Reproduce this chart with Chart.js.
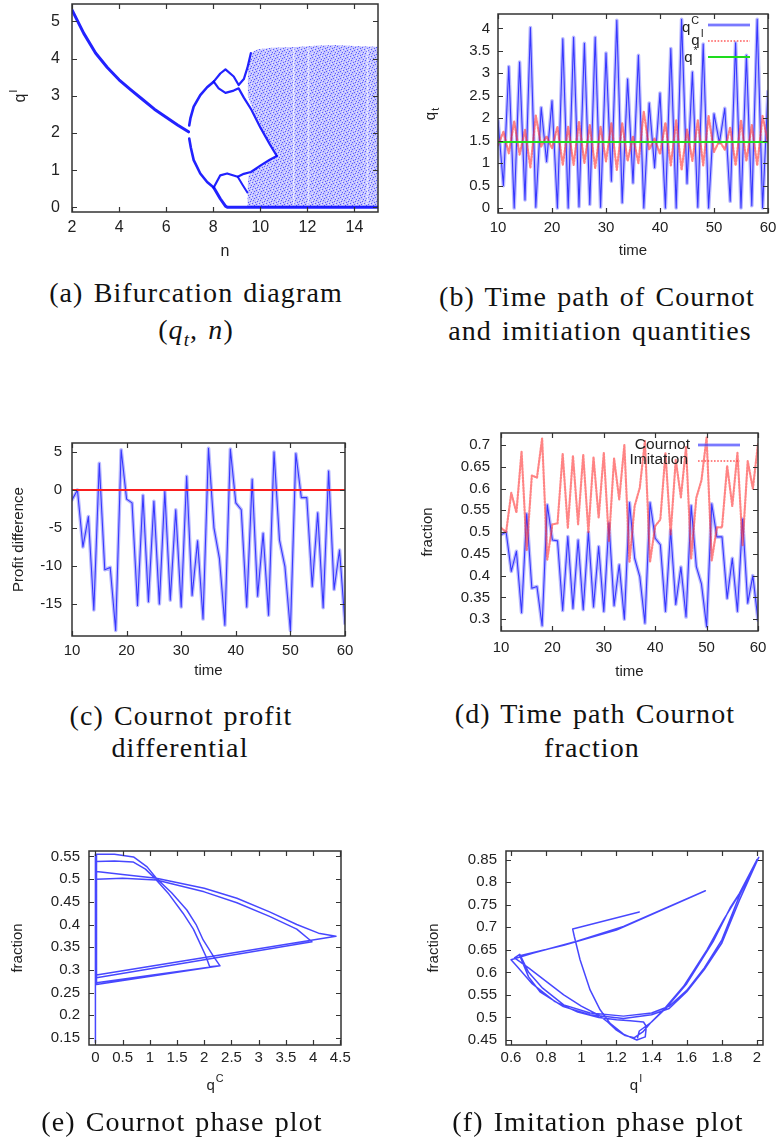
<!DOCTYPE html>
<html>
<head>
<meta charset="utf-8">
<script src="https://cdn.jsdelivr.net/npm/chart.js@4.4.1/dist/chart.umd.min.js"></script>
<style>
  html, body { margin: 0; padding: 0; background: #fff; }
  body { width: 780px; height: 1142px; position: relative; overflow: hidden; }
  canvas { position: absolute; }
  .cap { position: absolute; width: 390px; text-align: center; font-family: "Liberation Serif", serif;
         font-size: 28px; letter-spacing: 1.1px; word-spacing: 2px; line-height: 30px; color: #111; white-space: nowrap; }
  .cap sub { font-size: 19px; line-height: 0; }
</style>
</head>
<body>
<canvas id="ca" width="385" height="265" style="left:0;top:0"></canvas>
<canvas id="cb" width="385" height="265" style="left:395px;top:0"></canvas>
<canvas id="cc" width="390" height="260" style="left:0;top:430px"></canvas>
<canvas id="cd" width="385" height="265" style="left:395px;top:425px"></canvas>
<canvas id="ce" width="390" height="280" style="left:0;top:830px"></canvas>
<canvas id="cf" width="385" height="280" style="left:395px;top:830px"></canvas>

<div class="cap" style="left:1px;top:278px">(a) Bifurcation diagram</div>
<div class="cap" style="left:1px;top:315px">(<i>q</i><sub><i>t</i></sub>, <i>n</i>)</div>
<div class="cap" style="left:402px;top:282px">(b) Time path of Cournot</div>
<div class="cap" style="left:405px;top:316px">and imitiation quantities</div>
<div class="cap" style="left:-14px;top:701px">(c) Cournot profit</div>
<div class="cap" style="left:-15px;top:733px">differential</div>
<div class="cap" style="left:400px;top:699px">(d) Time path Cournot</div>
<div class="cap" style="left:397px;top:733px">fraction</div>
<div class="cap" style="left:-13px;top:1107px">(e) Cournot phase plot</div>
<div class="cap" style="left:403px;top:1107px">(f) Imitation phase plot</div>

<script>
// ---------- data ----------
// (a) bifurcation diagram, [n, q^I]
const bifNTicks = [2, 4, 6, 8, 10, 12, 14];
const bifQTicks = [0, 1, 2, 3, 4, 5];
const bifBranch1 = [[2,5.31],[2.5,4.68],[3,4.15],[3.5,3.76],[4,3.43],[4.5,3.16],[5,2.9],[5.5,2.64],[6,2.42],[6.5,2.21],[6.95,2.03]];
const bif2Up = [[6.98,2.2],[7.03,2.39],[7.17,2.71],[7.45,3.02],[7.74,3.23],[8.02,3.38]];
const bif2Low = [[6.98,1.85],[7.05,1.6],[7.17,1.27],[7.45,0.91],[7.74,0.68],[8.02,0.53]];
const bif4a = [[8.02,3.38],[8.3,3.6],[8.52,3.71],[8.87,3.52],[9.08,3.29],[9.3,3.45],[9.45,3.75],[9.6,4.15]];
const bif4b = [[8.02,3.38],[8.23,3.2],[8.52,3.08],[8.87,3.14],[9.08,3.2],[9.3,2.95],[9.6,2.65],[10.0,2.15],[10.4,1.7],[10.7,1.38]];
const bif4c = [[8.02,0.53],[8.3,0.86],[8.59,0.91],[9.04,0.82],[9.3,0.9],[9.6,0.95],[10.0,1.12],[10.4,1.28],[10.7,1.38]];
const bif4d = [[8.02,0.53],[8.3,0.23],[8.52,0.03],[8.6,0],[15,0]];
const bif8 = [[9.04,0.82],[9.25,0.6],[9.45,0.4]];
// chaotic cloud: upper band (top edge down to its lower edge, then the floor) and lower band edge
const chaosTop = [[9.45,3.05],[9.47,3.6],[9.52,3.95],[9.65,4.17],[9.9,4.25],[10.5,4.29],[11.5,4.31],[12.5,4.35],[13.2,4.37],[14,4.34],[15,4.32]];
const chaosBottom = [[9.45,3.05],[9.75,2.5],[10.1,2.05],[10.45,1.68],[10.7,1.38],[10.72,0],[15,0]];
const chaosLowEdge = [[9.45,0.45],[9.5,0.85],[9.75,1.02],[10.1,1.18],[10.45,1.3],[10.7,1.38],[10.72,1.36]];
// periodic windows: sparse vertical stripes in the cloud
const chaosWindowN = [11.42, 12.05, 14.55];
const chaosWindowQ = [0.1, 4.25];

// time series t = 10..60
const times = [10,11,12,13,14,15,16,17,18,19,20,21,22,23,24,25,26,27,28,29,30,31,32,33,34,35,36,37,38,39,
               40,41,42,43,44,45,46,47,48,49,50,51,52,53,54,55,56,57,58,59,60];
const timeTicks = [10, 20, 30, 40, 50, 60];

// (b) quantities
const qC = [1.95,0.5,3.15,0.0,3.25,0.18,4.02,0.02,2.24,1.03, 2.39,0.0,3.77,0.0,3.8,0.03,3.67,0.08,3.8,0.02,
            3.45,0.6,4.18,0.12,2.87,0.56,3.4,0.0,2.34,0.9, 2.56,0.0,3.55,0.0,4.2,0.55,3.03,0.02,3.65,0.0,
            2.1,1.45,2.22,0.15,3.68,0.0,3.4,0.05,4.2,0.0, 2.6];
const qI = [1.4,1.7,1.22,1.93,1.19,1.74,0.9,2.06,1.37,1.6, 1.33,1.81,0.96,1.81,0.96,1.93,1.0,1.85,0.89,1.81,
            1.04,1.89,0.85,1.89,1.05,1.6,1.0,2.15,1.3,1.55, 1.2,1.9,0.95,1.95,0.85,1.75,1.05,1.95,0.95,2.05,
            1.25,1.5,1.3,1.8,0.95,1.95,1.05,1.85,0.95,2.05, 1.45];
const qStarT = [10, 60];
const qStar = [1.47, 1.47];
const qTicks = [0, 0.5, 1, 1.5, 2, 2.5, 3, 3.5, 4];

// (c) profit difference
const profitDiff = [-1.3,0,-7.5,-3.5,-15.8,3.5,-10.5,-10.2,-18.5,5.3, -1.2,-1.7,-15.2,-0.7,-14.7,-1.5,-15,-0.2,-14.5,-2.6,
                    -15.4,1.8,-13.9,-6.7,-17,5.5,-5,-9,-17.8,5.4, -1.7,-2.6,-15.4,1.4,-14,-5.7,-16.5,5,-6.6,-10.1,
                    -18.5,4.8,-1,-1,-12.7,-3,-15.5,2.5,-13.1,-7.9, -17.6];
const profitZeroT = [10, 60];
const profitZero = [0, 0];
const profitTicks = [-15, -10, -5, 0, 5];

// (d) fractions
const fracC = [0.494,0.5,0.41,0.456,0.315,0.542,0.371,0.375,0.285,0.563, 0.482,0.48,0.32,0.49,0.325,0.482,0.322,0.5,0.328,0.467,
               0.318,0.521,0.331,0.425,0.3,0.568,0.44,0.398,0.291,0.568, 0.486,0.471,0.318,0.505,0.334,0.42,0.305,0.561,0.421,0.381,
               0.283,0.565,0.489,0.489,0.348,0.44,0.318,0.53,0.337,0.4, 0.298];
const fracI = [0.51,0.5,0.59,0.545,0.685,0.458,0.63,0.625,0.715,0.437, 0.518,0.52,0.68,0.51,0.675,0.518,0.678,0.5,0.672,0.533,
               0.682,0.479,0.669,0.575,0.7,0.432,0.56,0.602,0.709,0.432, 0.514,0.529,0.682,0.495,0.666,0.58,0.695,0.439,0.579,0.619,
               0.717,0.435,0.511,0.511,0.652,0.56,0.682,0.47,0.663,0.6, 0.702];
const fracTicks = [0.3, 0.35, 0.4, 0.45, 0.5, 0.55, 0.6, 0.65, 0.7];

// (e) Cournot phase plot, [q^C, fraction]
const phaseC = [[0,0.14],[0,0.555],
  [0.35,0.555],[0.7,0.549],[0.95,0.527],[1.12,0.502],[1.4,0.47],[1.68,0.432],[1.85,0.4],[1.98,0.366],[2.17,0.33],[2.29,0.309],
  [0.02,0.268],[0.02,0.517],
  [0.5,0.51],[1.12,0.502],[2.0,0.48],[2.6,0.458],[3.2,0.428],[3.7,0.4],[4.1,0.381],[4.42,0.374],
  [0.02,0.289],[0.02,0.539],
  [0.35,0.54],[0.69,0.538],[0.92,0.522],[1.09,0.502],[1.35,0.467],[1.61,0.425],[1.8,0.39],[1.92,0.359],[2.03,0.33],[2.1,0.307],[2.29,0.309],
  [0.02,0.272],[0.02,0.5],
  [0.5,0.502],[1.12,0.498],[2.0,0.472],[2.6,0.448],[3.2,0.418],[3.7,0.39],[3.98,0.362],
  [0.02,0.283],[0.02,0.555]];
const phaseCXTicks = [0, 0.5, 1, 1.5, 2, 2.5, 3, 3.5, 4, 4.5];
const phaseCYTicks = [0.15, 0.2, 0.25, 0.3, 0.35, 0.4, 0.45, 0.5, 0.55];

// (f) imitation phase plot, [q^I, fraction]
const phaseI = [[1.33,0.734],[0.951,0.696],[0.96,0.68],[0.993,0.628],[1.05,0.561],[1.107,0.517],[1.164,0.487],[1.24,0.463],
  [1.316,0.45],[1.364,0.457],[1.37,0.48],[1.354,0.49],[1.278,0.493],[1.2,0.495],[1.1,0.5],[0.98,0.512],[0.85,0.535],
  [0.72,0.575],[0.63,0.615],[0.6,0.628],
  [0.727,0.643],[0.974,0.669],[1.24,0.702],[1.706,0.781],[1.2,0.694],[0.9,0.66],[0.65,0.637],
  [0.7,0.59],[0.765,0.557],[0.898,0.524],[1.05,0.506],[1.24,0.498],[1.4,0.506],[1.5,0.52],[1.6,0.557],[1.7,0.606],
  [1.8,0.665],[1.9,0.76],[2.01,0.855],
  [1.95,0.81],[1.886,0.765],[1.81,0.717],[1.715,0.65],[1.582,0.569],[1.468,0.517],[1.392,0.487],[1.35,0.468],[1.3,0.455],
  [1.25,0.46],[1.2,0.472],[1.15,0.49],[1.1,0.505],[1.0,0.525],[0.9,0.55],[0.8,0.58],[0.7,0.61],[0.62,0.632],
  [0.65,0.64],[0.7,0.6],[0.78,0.565],[0.9,0.528],[1.05,0.51],[1.24,0.503],[1.4,0.51],[1.5,0.525],[1.6,0.56],[1.7,0.61],
  [1.8,0.672],[1.9,0.77],[2.0,0.85],[1.9,0.775],[1.85,0.745],[1.75,0.668],[1.6,0.575],[1.48,0.52],[1.4,0.49],[1.33,0.47],[1.32,0.455]];
const phaseIXTicks = [0.6, 0.8, 1, 1.2, 1.4, 1.6, 1.8, 2];
const phaseIYTicks = [0.45, 0.5, 0.55, 0.6, 0.65, 0.7, 0.75, 0.8, 0.85];

// ---------- helpers ----------
const sans = "'Liberation Sans', Arial, sans-serif";
const ink = '#222';
const fmt = v => String(v);
const xy = arr => arr.map(p => ({ x: p[0], y: p[1] }));
const series = (xs, ys) => xs.map((x, i) => ({ x: x, y: ys[i] }));

const strokes = {
  halo:  { borderColor: 'rgba(130,130,255,0.55)', borderWidth: 3.6 },
  core:  { borderColor: 'rgba(0,0,255,0.7)', borderWidth: 1.1 },
  red:   { borderColor: 'rgba(255,50,50,0.6)', borderWidth: 2.2, borderDash: [1.6, 1.6] },
  green: { borderColor: 'rgb(30,220,30)', borderWidth: 2 },
  zero:  { borderColor: 'rgb(250,30,30)', borderWidth: 2 },
  bif:   { borderColor: 'rgba(10,10,255,0.9)', borderWidth: 2.6 },
  thin:  { borderColor: 'rgba(0,0,255,0.72)', borderWidth: 1.5 },
  gap:   { borderColor: 'rgba(255,255,255,0.55)', borderWidth: 1.6 },
  none:  { borderColor: 'rgba(0,0,0,0)', borderWidth: 0 }
};

function ds(data, style, extra) {
  return Object.assign({ data: data, showLine: true, pointRadius: 0, fill: false,
    borderJoinStyle: 'round', borderCapStyle: 'round' }, style, extra || {});
}

function speckle() {
  const c = document.createElement('canvas');
  c.width = 7; c.height = 7;
  const g = c.getContext('2d');
  g.fillStyle = 'rgba(90,90,255,0.36)';
  g.fillRect(0, 0, 7, 7);
  g.fillStyle = 'rgba(20,20,255,0.6)';
  [[0, 0], [4, 1], [2, 2], [6, 3], [1, 4], [5, 5], [3, 6]].forEach(p => g.fillRect(p[0], p[1], 1, 1));
  g.fillStyle = 'rgba(255,255,255,0.6)';
  [[2, 0], [6, 1], [0, 3], [4, 4], [6, 6]].forEach(p => g.fillRect(p[0], p[1], 1, 1));
  return g.createPattern(c, 'repeat');
}

// frame with inward ticks on all four sides, gnuplot style
const frame = {
  id: 'frame',
  afterDatasetsDraw(chart) {
    const { ctx, chartArea: a } = chart;
    const sx = chart.scales.x, sy = chart.scales.y;
    ctx.save();
    ctx.strokeStyle = '#333';
    ctx.lineWidth = 1.2;
    ctx.beginPath();
    sx.ticks.forEach(t => {
      const p = Math.round(sx.getPixelForValue(t.value)) + 0.5;
      ctx.moveTo(p, a.bottom); ctx.lineTo(p, a.bottom - 5);
      ctx.moveTo(p, a.top); ctx.lineTo(p, a.top + 5);
    });
    sy.ticks.forEach(t => {
      const p = Math.round(sy.getPixelForValue(t.value)) + 0.5;
      ctx.moveTo(a.left, p); ctx.lineTo(a.left + 5, p);
      ctx.moveTo(a.right, p); ctx.lineTo(a.right - 5, p);
    });
    ctx.stroke();
    ctx.lineWidth = 1.5;
    ctx.strokeRect(a.left, a.top, a.right - a.left, a.bottom - a.top);
    ctx.restore();
  }
};

function sample(ctx, kind, x1, x2, y) {
  const list = kind === 'blue' ? [strokes.halo, strokes.core] : [strokes[kind]];
  list.forEach(s => {
    ctx.beginPath();
    ctx.strokeStyle = s.borderColor;
    ctx.lineWidth = s.borderWidth;
    ctx.setLineDash(s.borderDash || []);
    ctx.moveTo(x1, y); ctx.lineTo(x2, y);
    ctx.stroke();
  });
}

// labels with super/subscripts and legend keys
function notes(items) {
  return {
    id: 'notes',
    afterDraw(chart) {
      const ctx = chart.ctx;
      items.forEach(it => {
        ctx.save();
        if (it.key) {
          sample(ctx, it.key, it.x1, it.x2, it.y);
        } else {
          const f = s => s + 'px ' + sans;
          ctx.translate(it.x, it.y);
          if (it.rot) ctx.rotate(it.rot);
          ctx.fillStyle = ink;
          ctx.textBaseline = 'middle';
          ctx.textAlign = 'left';
          ctx.font = f(it.size);
          const w1 = ctx.measureText(it.text).width;
          let w2 = 0;
          if (it.script) { ctx.font = f(it.size * 0.72); w2 = ctx.measureText(it.script).width + 1; }
          const x0 = it.align === 'right' ? -(w1 + w2) : -(w1 + w2) / 2;
          ctx.font = f(it.size);
          ctx.fillText(it.text, x0, 0);
          if (it.script) {
            ctx.font = f(it.size * 0.72);
            ctx.fillText(it.script, x0 + w1 + 1, it.sub ? it.size * 0.32 : -it.size * 0.45);
          }
        }
        ctx.restore();
      });
    }
  };
}

function scales(o) {
  const zero = s => { s.paddingLeft = 0; s.paddingRight = 0; s.paddingTop = 0; s.paddingBottom = 0; };
  return {
    x: {
      type: 'linear', position: 'bottom', min: o.xr[0], max: o.xr[1],
      afterBuildTicks: s => { s.ticks = o.xt.map(v => ({ value: v })); },
      afterFit: s => { s.height = o.xh; zero(s); },
      grid: { display: false, drawTicks: false }, border: { display: false },
      ticks: { color: ink, font: { family: sans, size: o.fs }, padding: o.xp, autoSkip: false, maxRotation: 0, callback: fmt },
      title: o.xtitle ? { display: true, text: o.xtitle, color: ink, font: { family: sans, size: o.ts || 15 },
                          padding: { top: 0, bottom: o.xtp } } : { display: false }
    },
    y: {
      type: 'linear', position: 'left', min: o.yr[0], max: o.yr[1],
      afterBuildTicks: s => { s.ticks = o.yt.map(v => ({ value: v })); },
      afterFit: s => { s.width = o.yw; zero(s); },
      grid: { display: false, drawTicks: false }, border: { display: false },
      ticks: { color: ink, font: { family: sans, size: o.fs }, padding: o.yp, autoSkip: false, callback: fmt },
      title: o.ytitle ? { display: true, text: o.ytitle, color: ink, font: { family: sans, size: 15 },
                          padding: { top: o.ytp, bottom: 0 } } : { display: false }
    }
  };
}

function makeChart(id, o, datasets, items) {
  return new Chart(document.getElementById(id), {
    type: 'scatter',
    data: { datasets: datasets },
    options: {
      responsive: false, animation: false, events: [],
      layout: { padding: { left: 0, top: o.pt, right: o.pr, bottom: 0 } },
      plugins: { legend: { display: false }, tooltip: { enabled: false } },
      scales: scales(o)
    },
    plugins: [frame, notes(items || [])]
  });
}

const up = -Math.PI / 2;
const cloud = speckle();

// (a)  datasets listed top-most first
makeChart('ca',
  { xr: [2, 15], yr: [-0.127, 5.47], xt: bifNTicks, yt: bifQTicks, yw: 72, xh: 53, pt: 4, pr: 7,
    fs: 16, xp: 6.4, yp: 12, xtitle: 'n', ts: 16, xtp: 3.4 },
  [
    ds(xy(bif4d), strokes.bif, { borderWidth: 3 }),
    ds(xy(bifBranch1), strokes.bif, { borderWidth: 3 }),
    ds(xy(bif2Up), strokes.bif),
    ds(xy(bif2Low), strokes.bif),
    ds(xy(bif4a), strokes.bif, { borderWidth: 2.2 }),
    ds(xy(bif4b), strokes.bif, { borderWidth: 2.2 }),
    ds(xy(bif4c), strokes.bif, { borderWidth: 2.2 }),
    ds(xy(bif8), strokes.bif, { borderWidth: 2 }),
    ...chaosWindowN.map(n => ds(series([n, n], chaosWindowQ), strokes.gap)),
    ds(xy(chaosLowEdge), strokes.none, { fill: 'origin', backgroundColor: cloud }),
    ds(xy(chaosTop), strokes.none, { fill: '+1', backgroundColor: cloud }),
    ds(xy(chaosBottom), strokes.none)
  ],
  [{ text: 'q', script: 'I', x: 21, y: 96, rot: up, size: 16 }]);

// (b)
makeChart('cb',
  { xr: [10, 60], yr: [-0.11, 4.32], xt: timeTicks, yt: qTicks, yw: 103, xh: 52, pt: 14, pr: 12,
    fs: 15, xp: 6, yp: 8, xtitle: 'time', xtp: 5 },
  [
    ds(series(qStarT, qStar), strokes.green),
    ds(series(times, qI), strokes.red),
    ds(series(times, qC), strokes.core),
    ds(series(times, qC), strokes.halo)
  ],
  [
    { text: 'q', script: 't', sub: true, x: 36, y: 114, rot: up, size: 15 },
    { text: 'q', script: 'C', x: 295.5, y: 28, size: 15 },
    { text: 'q', script: 'I', x: 302.5, y: 41, size: 15 },
    { text: 'q', script: '*', x: 296, y: 58, size: 15 },
    { key: 'blue', x1: 313, x2: 355, y: 25 },
    { key: 'red', x1: 313, x2: 355, y: 41 },
    { key: 'green', x1: 313, x2: 355, y: 57 }
  ]);

// (c)
makeChart('cc',
  { xr: [10, 60], yr: [-19.23, 6.19], xt: timeTicks, yt: profitTicks, yw: 72, xh: 54, pt: 13, pr: 45,
    fs: 15, xp: 5.7, yp: 10, xtitle: 'time', xtp: 10, ytitle: 'Profit difference', ytp: 10 },
  [
    ds(series(profitZeroT, profitZero), strokes.zero),
    ds(series(times, profitDiff), strokes.core),
    ds(series(times, profitDiff), strokes.halo)
  ]);

// (d)
makeChart('cd',
  { xr: [10, 60], yr: [0.273, 0.7276], xt: timeTicks, yt: fracTicks, yw: 106, xh: 59, pt: 8, pr: 22,
    fs: 15, xp: 7.7, yp: 11, xtitle: 'time', xtp: 9, ytitle: 'fraction', ytp: 23.5 },
  [
    ds(series(times, fracI), strokes.red),
    ds(series(times, fracC), strokes.core),
    ds(series(times, fracC), strokes.halo)
  ],
  [
    { text: 'Cournot', align: 'right', x: 295, y: 20, size: 15.5 },
    { text: 'Imitation', align: 'right', x: 293, y: 35, size: 15.5 },
    { key: 'blue', x1: 303, x2: 345, y: 20 },
    { key: 'red', x1: 303, x2: 345, y: 36 }
  ]);

// (e)
makeChart('ce',
  { xr: [-0.118, 4.513], yr: [0.1346, 0.562], xt: phaseCXTicks, yt: phaseCYTicks, yw: 89, xh: 65, pt: 21, pr: 49,
    fs: 15, xp: 4.3, yp: 9, ytitle: 'fraction', ytp: 8.5 },
  [ds(xy(phaseC), strokes.thin)],
  [{ text: 'q', script: 'C', x: 215, y: 256, size: 15 }]);

// (f)
makeChart('cf',
  { xr: [0.5715, 2.034], yr: [0.439, 0.869], xt: phaseIXTicks, yt: phaseIYTicks, yw: 111, xh: 65, pt: 21, pr: 17,
    fs: 15, xp: 4.3, yp: 9, ytitle: 'fraction', ytp: 30 },
  [ds(xy(phaseI), strokes.thin)],
  [{ text: 'q', script: 'I', x: 241, y: 256, size: 15 }]);
</script>
</body>
</html>
